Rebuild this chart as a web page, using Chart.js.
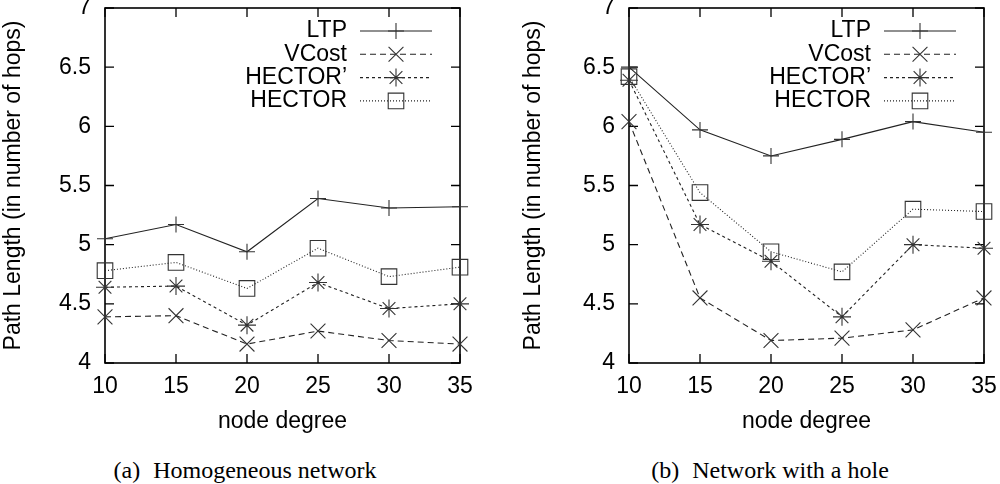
<!DOCTYPE html>
<html>
<head>
<meta charset="utf-8">
<script src="https://cdn.jsdelivr.net/npm/chart.js@4.4.1/dist/chart.umd.min.js"></script>
<style>
  body { margin: 0; background: #fff; width: 1000px; height: 484px; position: relative; overflow: hidden; }
  .panel { position: absolute; top: 0; width: 500px; height: 440px; }
  .caption {
    position: absolute; top: 458px; transform: translateX(-50%);
    font-family: "Liberation Serif", "Times New Roman", serif; font-size: 24px; line-height: 24px;
    color: #000; white-space: nowrap;
  }
  .caption span { margin-right: 13px; }
</style>
</head>
<body>
<div class="panel" style="left:0"><canvas id="homChart"></canvas></div>
<div class="panel" style="left:500px"><canvas id="holeChart"></canvas></div>
<div class="caption" style="left:245px"><span>(a)</span>Homogeneous network</div>
<div class="caption" style="left:770px"><span>(b)</span>Network with a hole</div>
<script>
// x categories and y ticks
const degrees = [10, 15, 20, 25, 30, 35];
const yMin = 4, yMax = 7, yStep = 0.5;
const seriesNames = ['LTP', 'VCost', 'HECTOR\u2019', 'HECTOR'];

// (a) homogeneous network
const homLTP      = [5.05, 5.17, 4.94, 5.39, 5.31, 5.32];
const homVCost    = [4.39, 4.40, 4.16, 4.27, 4.19, 4.16];
const homHectorP  = [4.64, 4.65, 4.32, 4.68, 4.46, 4.50];
const homHector   = [4.78, 4.85, 4.63, 4.97, 4.73, 4.81];

// (b) network with a hole
const holeLTP     = [6.50, 5.97, 5.75, 5.89, 6.04, 5.95];
const holeVCost   = [6.04, 4.55, 4.19, 4.21, 4.28, 4.55];
const holeHectorP = [6.39, 5.17, 4.86, 4.39, 5.00, 4.97];
const holeHector  = [6.42, 5.44, 4.94, 4.77, 5.30, 5.28];

// gnuplot-ish line/point styles, one per series
const lineStyles = [
  { dash: [],     point: 'cross',    radius: 8 },
  { dash: [6, 4], point: 'crossRot', radius: 10.5 },
  { dash: [3, 3], point: 'star',     radius: 9 },
  { dash: [1, 2], point: 'rect',     radius: 11 }
];

const font = { family: '"Liberation Sans", Arial, sans-serif', size: 23 };
const TICK = 9;

// box around the plot with inward ticks on all four sides (gnuplot style)
const frameTicks = {
  id: 'frameTicks',
  beforeDatasetsDraw(chart) {
    const { ctx, chartArea: a, scales } = chart;
    ctx.save();
    ctx.strokeStyle = '#000';
    ctx.lineWidth = 1.3;
    ctx.beginPath();
    scales.x.ticks.forEach((t, i) => {
      const px = scales.x.getPixelForTick(i);
      ctx.moveTo(px, a.bottom); ctx.lineTo(px, a.bottom - TICK);
      ctx.moveTo(px, a.top); ctx.lineTo(px, a.top + TICK);
    });
    scales.y.ticks.forEach(t => {
      const py = scales.y.getPixelForValue(t.value);
      ctx.moveTo(a.left, py); ctx.lineTo(a.left + TICK, py);
      ctx.moveTo(a.right, py); ctx.lineTo(a.right - TICK, py);
    });
    ctx.stroke();
    ctx.lineWidth = 1.6;
    ctx.strokeRect(a.left, a.top, a.right - a.left, a.bottom - a.top);
    ctx.restore();
  }
};

// legend drawn inside the plot, text to the left of the sample
const insideLegend = {
  id: 'insideLegend',
  afterDatasetsDraw(chart) {
    const { ctx, chartArea } = chart;
    ctx.save();
    ctx.font = '23px "Liberation Sans", Arial, sans-serif';
    ctx.textAlign = 'right';
    ctx.textBaseline = 'middle';
    chart.data.datasets.forEach((ds, i) => {
      const y = chartArea.top + 23 + i * 23.3;
      ctx.fillStyle = '#000';
      ctx.fillText(ds.label, chartArea.right - 113, y);
      ctx.strokeStyle = ds.borderColor;
      ctx.lineWidth = ds.borderWidth;
      ctx.setLineDash(ds.borderDash);
      ctx.beginPath();
      ctx.moveTo(chartArea.right - 100, y);
      ctx.lineTo(chartArea.right - 28, y);
      ctx.stroke();
      ctx.setLineDash([]);
      ctx.strokeStyle = ds.pointBorderColor;
      ctx.fillStyle = 'rgba(0,0,0,0)';
      ctx.lineWidth = ds.pointBorderWidth;
      Chart.helpers.drawPoint(ctx, {
        pointStyle: ds.pointStyle, radius: ds.pointRadius, rotation: 0, borderWidth: ds.pointBorderWidth
      }, chartArea.right - 64, y);
    });
    ctx.restore();
  }
};

function makeChart(id, seriesData, leftWidth, rightPad, titlePad) {
  return new Chart(document.getElementById(id), {
    type: 'line',
    data: {
      labels: degrees,
      datasets: seriesData.map((values, i) => ({
        label: seriesNames[i],
        data: values,
        borderColor: '#222',
        borderWidth: 1.1,
        borderDash: lineStyles[i].dash,
        pointStyle: lineStyles[i].point,
        pointRadius: lineStyles[i].radius,
        pointBorderColor: '#333',
        pointBackgroundColor: 'rgba(0,0,0,0)',
        pointBorderWidth: 1.1,
        tension: 0,
        clip: false
      }))
    },
    options: {
      responsive: true,
      maintainAspectRatio: false,
      animation: false,
      layout: { padding: { top: 8, left: 0, right: rightPad, bottom: 0 }, autoPadding: false },
      scales: {
        x: {
          type: 'category', offset: false,
          grid: { display: false, drawTicks: false }, border: { display: false },
          ticks: { font: font, color: '#000', padding: 10, maxRotation: 0, autoSkip: false },
          title: { display: true, text: 'node degree', font: font, color: '#000', padding: { top: 0, bottom: 4.5 } },
          afterFit: s => { s.height = 77; s.paddingLeft = 0; s.paddingRight = 0; }
        },
        y: {
          min: yMin, max: yMax,
          grid: { display: false, drawTicks: false }, border: { display: false },
          ticks: { stepSize: yStep, font: font, color: '#000', padding: 14, callback: v => String(v) },
          title: { display: true, text: 'Path Length (in number of hops)', font: font, color: '#000', padding: { top: titlePad, bottom: 0 } },
          afterFit: s => { s.width = leftWidth; s.paddingTop = 0; s.paddingBottom = 0; }
        }
      },
      plugins: { legend: { display: false }, tooltip: { enabled: false } }
    },
    plugins: [frameTicks, insideLegend]
  });
}

makeChart('homChart', [homLTP, homVCost, homHectorP, homHector], 105, 40, 0);
makeChart('holeChart', [holeLTP, holeVCost, holeHectorP, holeHector], 129, 16, 20);
</script>
</body>
</html>
